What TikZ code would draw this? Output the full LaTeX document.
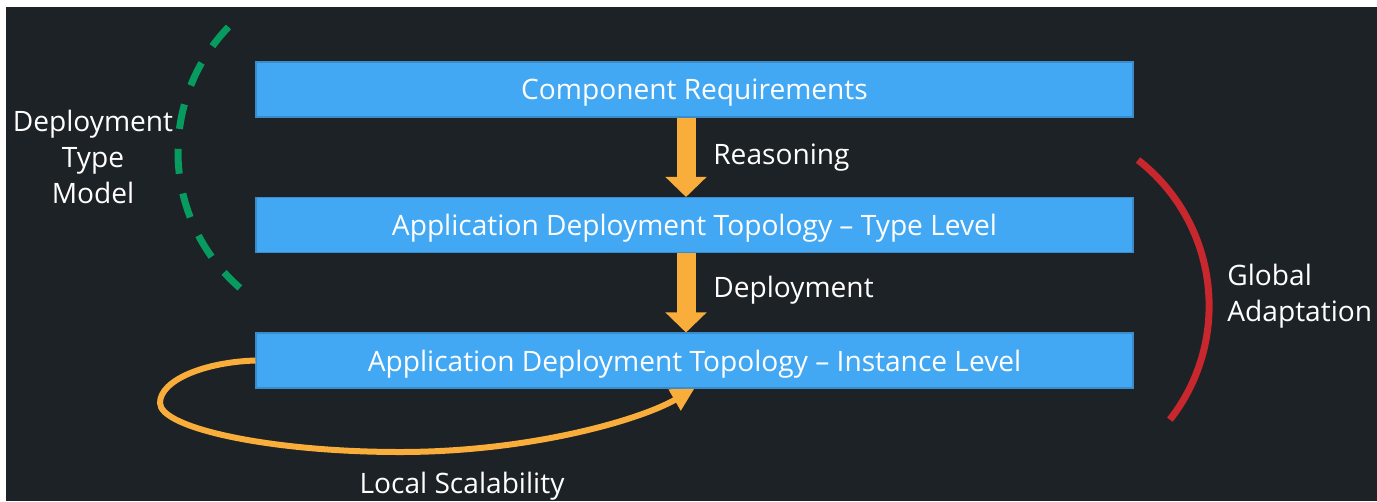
\documentclass[tikz,border=0pt]{standalone}
\usepackage{fontspec}
\setmainfont{Open Sans}
\usetikzlibrary{arrows.meta}
\definecolor{cFondo}{HTML}{1D2226}
\definecolor{cCaja}{HTML}{42A8F3}
\definecolor{cBorde}{HTML}{3A8CCB}
\definecolor{cFlecha}{HTML}{F9AD3A}
\definecolor{cTipo}{HTML}{079B60}
\definecolor{cGlobal}{HTML}{C8282D}
\tikzset{
    x=0.2mm, y=-0.2mm, font=\fontsize{16}{20.5}\selectfont,
    nivel/.style={draw=cBorde, line width=0.6pt, fill=cCaja, text=white,
                  minimum width=17.54cm, minimum height=1.1cm, inner sep=0pt,
                  text depth=0pt},
    paso/.style={-{Triangle[width=0.8cm, length=0.4cm]},
                 line width=0.38cm, cFlecha},
    lazo/.style={-{Triangle[width=0.46cm, length=0.46cm]},
                 line width=0.12cm, cFlecha},
    lbl/.style={text=white, inner sep=0pt, text depth=0pt},
    tipo/.style={draw=cTipo, line width=0.14cm, dash pattern=on 0.5cm off 0.4cm},
    global/.style={draw=cGlobal, line width=0.14cm},
}

\begin{document}
\begin{tikzpicture}
    \fill[white] (0,0) rectangle (1377,501);
    \useasboundingbox (0,0) rectangle (1377,501);
    \fill[cFondo] (6,7) rectangle (1377,501);

    \node[nivel] (req) at (694.5,89.5) {Component Requirements};
    \node[nivel] (typ) at (694.5,225) {Application Deployment Topology -- Type Level};
    \node[nivel] (ins) at (694.5,360.5) {Application Deployment Topology -- Instance Level};

    % flechas entre niveles, un poco a la izquierda del centro
    \draw[paso] ([xshift=-1.7mm]req.south) -- ([xshift=-1.7mm]typ.north);
    \node[lbl, anchor=west] (razon) at (713,154) {Reasoning};
    \draw[paso] ([xshift=-1.7mm]typ.south) -- ([xshift=-1.7mm]ins.north);
    \node[lbl, anchor=west] (despl) at (713,287) {Deployment};

    % bucle de escalado local
    \draw[lazo] (ins.west) .. controls (205,362) and (160,380) .. (160,403)
        .. controls (160,428) and (270,452) .. (400,452)
        .. controls (530,452) and (640,420) .. (ins.south);
    \node[lbl] (escala) at (462,483) {Local Scalability};

    % arcos laterales
    \draw[tipo] (228.5,27) arc[start angle=136, end angle=229, radius=3.6cm];
    \node[lbl, align=center] (modelo) at (93,157) {Deployment\\Type\\Model};
    \draw[global] (1138,160) arc[start angle=52, end angle=-38, radius=3.7cm];
    \node[lbl, align=left, anchor=west] (adapt) at (1227,293) {Global\\Adaptation};
\end{tikzpicture}
\end{document}
